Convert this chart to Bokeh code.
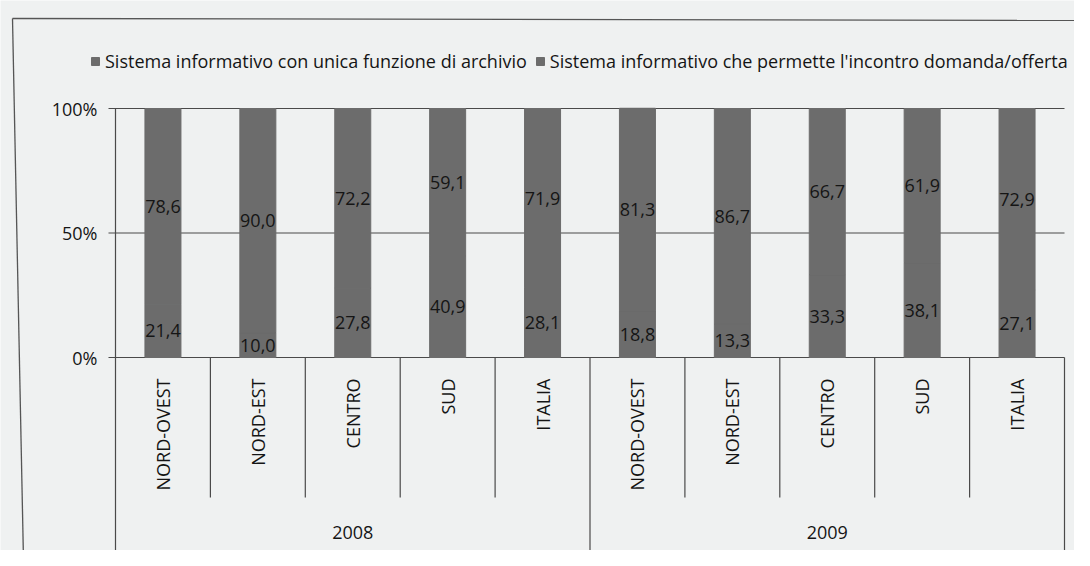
import numpy as np
from bokeh.plotting import figure
from bokeh.models import ColumnDataSource, Range1d, Legend, LegendItem
from bokeh.core.properties import value
from bokeh.embed import file_html
from bokeh.resources import INLINE

# ---------------- data ----------------
years = ["2008", "2009"]
regions = ["NORD-OVEST", "NORD-EST", "CENTRO", "SUD", "ITALIA"]
archivio = [21.4, 10.0, 27.8, 40.9, 28.1, 18.8, 13.3, 33.3, 38.1, 27.1]
incontro = [78.6, 90.0, 72.2, 59.1, 71.9, 81.3, 86.7, 66.7, 61.9, 72.9]
series_names = [
    "Sistema informativo con unica funzione di archivio",
    "Sistema informativo che permette l'incontro domanda/offerta",
]
y_ticks = [0, 50, 100]

# ---------------- style ----------------
FONT = "Open Sans"
BAR = "#6c6c6c"
BG = "#eff1f1"
INK = "#151515"
LINE = "#4a4a4a"
FS = "18px"

# pixel geometry (reference image coordinates) -> data mapping
PX_X0, PX_PER_X = 115.0, 94.9      # x = 0 at px 115, one category = 94.9 px
PX_Y0, PX_PER_Y = 357.0, 2.49      # y = 0 at px 357, one percent = 2.49 px
def dx(px):
    return (px - PX_X0) / PX_PER_X
def dy(py):
    return (PX_Y0 - py) / PX_PER_Y

W, H = 1074, 550
p = figure(width=W, height=H, output_backend="svg", toolbar_location=None, tools="",
           x_range=Range1d(dx(0), dx(W)), y_range=Range1d(dy(H), dy(0)),
           x_axis_type=None, y_axis_type=None, min_border=0,
           min_border_left=0, min_border_right=0, min_border_top=0, min_border_bottom=0)
p.outline_line_color = None
p.background_fill_color = BG
p.border_fill_color = BG

n_reg = len(regions)
cats = [(yr, rg) for yr in years for rg in regions]
xs = [i + 0.5 for i in range(len(cats))]

# outer scan frame
p.segment(x0=[dx(12), dx(12)], y0=[dy(18), dy(18)], x1=[dx(1090), dx(23)], y1=[dy(20), dy(560)],
          line_color="#555555", line_width=1.3)

# gridlines + tick marks
tick_left = dx(108)
p.segment(x0=[tick_left] * len(y_ticks), y0=y_ticks, x1=[len(cats)] * len(y_ticks), y1=y_ticks,
          line_color=LINE, line_width=1.1)

# bars
src = ColumnDataSource(dict(x=xs, archivio=archivio, incontro=incontro))
rs = p.vbar_stack(["archivio", "incontro"], x="x", width=36 / PX_PER_X, source=src,
                  fill_color=[BAR, BAR], line_color=[BAR, BAR], line_width=1)

# left axis line and category separators
sep_inner_bottom = dy(497)
sep_outer_bottom = dy(550)
p.segment(x0=[0], y0=[y_ticks[-1]], x1=[0], y1=[sep_outer_bottom], line_color=LINE, line_width=1.2)
outer = [g * n_reg for g in range(len(years) + 1)]
inner = [i for i in range(1, len(cats)) if i % n_reg != 0]
p.segment(x0=outer[1:], y0=[0] * len(outer[1:]), x1=outer[1:], y1=[sep_outer_bottom] * len(outer[1:]),
          line_color=LINE, line_width=1.2)
p.segment(x0=inner, y0=[0] * len(inner), x1=inner, y1=[sep_inner_bottom] * len(inner),
          line_color=LINE, line_width=1.2)

# y tick labels
p.text(x=[dx(97)] * len(y_ticks), y=y_ticks, text=[f"{t}%" for t in y_ticks],
       text_font=value(FONT), text_font_size=FS, text_color=INK,
       text_align="right", text_baseline="middle")

# value labels
fmt = lambda v: f"{v:.1f}".replace(".", ",")
lab_x = xs + xs
lab_y = [a / 2 for a in archivio] + [a + b / 2 for a, b in zip(archivio, incontro)]
lab_t = [fmt(a) for a in archivio] + [fmt(b) for b in incontro]
p.text(x=lab_x, y=lab_y, text=lab_t, text_font=value(FONT), text_font_size=FS,
       text_color=INK, text_align="center", text_baseline="middle")

# category labels (rotated)
p.text(x=xs, y=[dy(378)] * len(xs), text=[c[1] for c in cats], angle=np.pi / 2,
       text_font=value(FONT), text_font_size=FS, text_color=INK,
       text_align="right", text_baseline="middle")

# year labels
p.text(x=[g * n_reg + n_reg / 2 for g in range(len(years))], y=[dy(532)] * len(years), text=years,
       text_font=value(FONT), text_font_size=FS, text_color=INK,
       text_align="center", text_baseline="middle")

# legend
legend = Legend(items=[LegendItem(label=series_names[0], renderers=[rs[0]]),
                       LegendItem(label=series_names[1], renderers=[rs[1]])],
                location=(90, 477), orientation="horizontal",
                background_fill_alpha=0, border_line_color=None, padding=0, margin=0,
                spacing=8, glyph_width=10, glyph_height=10, label_standoff=5,
                label_text_font=FONT, label_text_font_size=FS, label_text_color=INK,
                label_height=20)
p.add_layout(legend)

open("out.html", "w").write(file_html(p, INLINE))
